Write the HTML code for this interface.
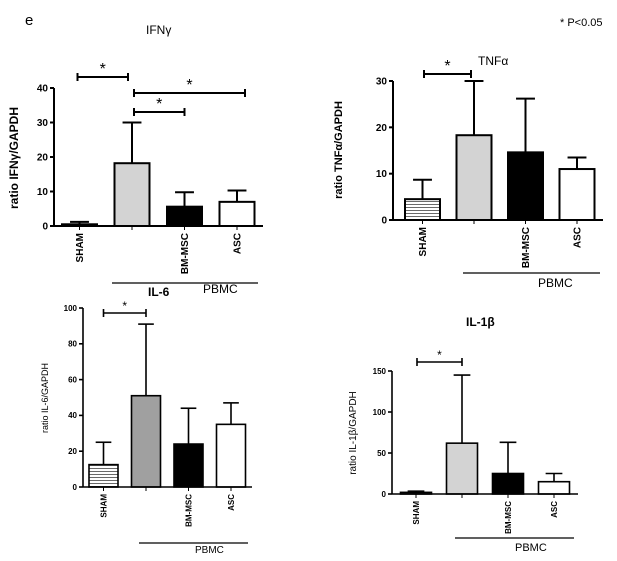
<!DOCTYPE html>
<html><head><meta charset="utf-8"><style>
html,body{margin:0;padding:0;background:#fff;}
svg{display:block;font-family:"Liberation Sans",sans-serif;}
</style></head><body>
<svg id="fig" width="617" height="561" viewBox="0 0 617 561">
<text x="25" y="25" font-size="15">e</text>
<text x="560" y="26" font-size="11">* P&lt;0.05</text>
</svg>
<script>
// Data arrays (values = bar mean, errorTops = top of error bar)
const categories = ["SHAM", "", "BM-MSC", "ASC"];
const ifngValues = [0.5, 18.2, 5.6, 7.0];
const ifngErrorTops = [1.2, 30, 9.8, 10.3];
const ifngTicks = [0, 10, 20, 30, 40];
const tnfValues = [4.5, 18.3, 14.6, 11.0];
const tnfErrorTops = [8.7, 30, 26.2, 13.5];
const tnfTicks = [0, 10, 20, 30];
const il6Values = [12.5, 51, 24, 35];
const il6ErrorTops = [25, 91, 44, 47];
const il6Ticks = [0, 20, 40, 60, 80, 100];
const il1bValues = [2, 62, 25, 15];
const il1bErrorTops = [3.5, 145, 63, 25];
const il1bTicks = [0, 50, 100, 150];

const NS = "http://www.w3.org/2000/svg";
const svg = document.getElementById("fig");
function mk(tag, attrs, parent){
  const e = document.createElementNS(NS, tag);
  for (const k in attrs) e.setAttribute(k, attrs[k]);
  (parent||svg).appendChild(e);
  return e;
}
const defs = mk("defs", {});
const pat = mk("pattern", {id:"hstripe", width:"4", height:"3", patternUnits:"userSpaceOnUse"}, defs);
mk("rect", {x:0,y:0,width:4,height:3,fill:"#fff"}, pat);
mk("line", {x1:0,y1:0.5,x2:4,y2:0.5,stroke:"#444","stroke-width":"0.8"}, pat);

function panel(cfg){
  const g = mk("g", {});
  
  
  const max = cfg.ticks[cfg.ticks.length-1];
  const yS = v => cfg.y0 - (v / max) * (cfg.y0 - cfg.yTop);
  const xC = i => cfg.x1 + i * cfg.step;
  const sw = cfg.sw;
  cfg.values.forEach((v, i) => {
    const cx = xC(i);
    const top = cfg.errs[i];
    const e = mk("line", {x1:cx, x2:cx, y1:yS(v), y2:yS(top), stroke:"#000", "stroke-width":sw}, g);
    
    
    const cap = mk("line", {x1:cx-cfg.bw*0.27, x2:cx+cfg.bw*0.27, y1:yS(top), y2:yS(top), stroke:"#000", "stroke-width":sw}, g);
    
    
    const r = mk("rect", {x:cx-cfg.bw/2, y:yS(v), width:cfg.bw, height:Math.max(0.5, yS(0)-yS(v)), fill:cfg.fills[i], stroke:"#000", "stroke-width":sw}, g);
    
    
  });
  const ya = mk("line", {x1:cfg.ax, x2:cfg.ax, y1:cfg.yTop, y2:cfg.y0, stroke:"#000", "stroke-width":sw}, g);
  
  
  const xa = mk("line", {x1:cfg.ax, x2:cfg.xEnd, y1:cfg.y0, y2:cfg.y0, stroke:"#000", "stroke-width":sw}, g);
  
  
  cfg.ticks.forEach(t => {
    mk("line", {x1:cfg.ax-4, x2:cfg.ax, y1:yS(t), y2:yS(t), stroke:"#000", "stroke-width":sw}, g);
    const tl = mk("text", {x:cfg.ax-6, y:yS(t)+cfg.tfs*0.35, "font-size":cfg.tfs, "font-weight":"bold", "text-anchor":"end"}, g);
    tl.textContent = t;
    
    
  });
  categories.forEach((c, i) => {
    const cx = xC(i);
    mk("line", {x1:cx, x2:cx, y1:cfg.y0, y2:cfg.y0+4, stroke:"#000", "stroke-width":1}, g);
    if (c) {
      const t = mk("text", {x:0, y:0, "font-size":cfg.cfs, "font-weight":"bold", "text-anchor":"end", transform:`translate(${cx+cfg.cfs*0.35},${cfg.y0+7}) rotate(-90)`}, g);
      t.textContent = c;
      
      
    }
  });
  cfg.sig.forEach(s => {
    const xb1 = xC(s[0]) + s[3], xb2 = xC(s[1]) + s[4];
    const yy = s[2];
    const br = mk("path", {d:`M${xb1},${yy-4}V${yy+4}M${xb1},${yy}H${xb2}M${xb2},${yy-4}V${yy+4}`, stroke:"#000", fill:"none", "stroke-width":sw}, g);
    
    
    const st = mk("text", {x:(xb1+xb2)/2, y:yy-3, "font-size":cfg.stfs, "text-anchor":"middle"}, g);
    st.textContent = "*";
    
    
  });
  const pl = mk("line", {x1:cfg.pb[0], x2:cfg.pb[1], y1:cfg.pb[2], y2:cfg.pb[2], stroke:"#000", "stroke-width":1.3}, g);
  
  
  const pt = mk("text", {x:cfg.pb[3], y:cfg.pb[4], "font-size":cfg.pfs}, g);
  pt.textContent = "PBMC";
  
  
  const yl = mk("text", {x:0, y:0, "font-size":cfg.yfs, "font-weight":cfg.ybold?"bold":"normal", "text-anchor":"middle", transform:`translate(${cfg.yl[0]},${cfg.yl[1]}) rotate(-90)`}, g);
  yl.textContent = cfg.ylabel;
  
  
  const tt = mk("text", {x:cfg.title[1], y:cfg.title[2], "font-size":cfg.title[3], "font-weight":cfg.title[4]?"bold":"normal"}, g);
  tt.textContent = cfg.title[0];
  
  
  return g;
}

panel({name:"ifn-gamma-chart", values:ifngValues, errs:ifngErrorTops, ticks:ifngTicks,
  ax:54, xEnd:263, y0:226, yTop:88, x1:79.5, step:52.5, bw:35, sw:2,
  fills:["#fff","#d3d3d3","#000","#fff"], tfs:10, cfs:10, stfs:16,
  sig:[[0,1,77,-2,-4],[1,2,112,2,0],[1,3,93,2,8]], pb:[112,258,283,203,293], pfs:12,
  yl:[18,158], yfs:12, ybold:true, ylabel:"ratio IFNγ/GAPDH", title:["IFNγ",146,34,12,false]});
panel({name:"tnf-alpha-chart", values:tnfValues, errors:null, errs:tnfErrorTops, ticks:tnfTicks,
  ax:393, xEnd:603, y0:220, yTop:81, x1:422.5, step:51.5, bw:35, sw:2,
  fills:["url(#hstripe)","#d3d3d3","#000","#fff"], tfs:10, cfs:10, stfs:16,
  sig:[[0,1,74,1.5,-3]], pb:[463,600,273,538,287], pfs:12,
  yl:[342,150], yfs:11, ybold:true, ylabel:"ratio TNFα/GAPDH", title:["TNFα",478,65,12,false]});
panel({name:"il-6-chart", values:il6Values, errs:il6ErrorTops, ticks:il6Ticks,
  ax:83, xEnd:252, y0:487, yTop:308, x1:103.5, step:42.5, bw:29, sw:1.6,
  fills:["url(#hstripe)","#a0a0a0","#000","#fff"], tfs:8, cfs:8, stfs:12,
  sig:[[0,1,313,0,0]], pb:[139,248,543,195,553], pfs:10,
  yl:[48,398], yfs:9, ybold:false, ylabel:"ratio IL-6/GAPDH", title:["IL-6",148,296,12,true]});
panel({name:"il-1beta-chart", values:il1bValues, errs:il1bErrorTops, ticks:il1bTicks,
  ax:392, xEnd:578, y0:494, yTop:371, x1:416, step:46, bw:31, sw:1.6,
  fills:["#fff","#d3d3d3","#000","#fff"], tfs:8, cfs:8, stfs:12,
  sig:[[0,1,362,1,0]], pb:[455,574,538,515,551], pfs:11,
  yl:[356,433], yfs:10, ybold:false, ylabel:"ratio IL-1β/GAPDH", title:["IL-1β",466,326,12,true]});
</script>
</body></html>
